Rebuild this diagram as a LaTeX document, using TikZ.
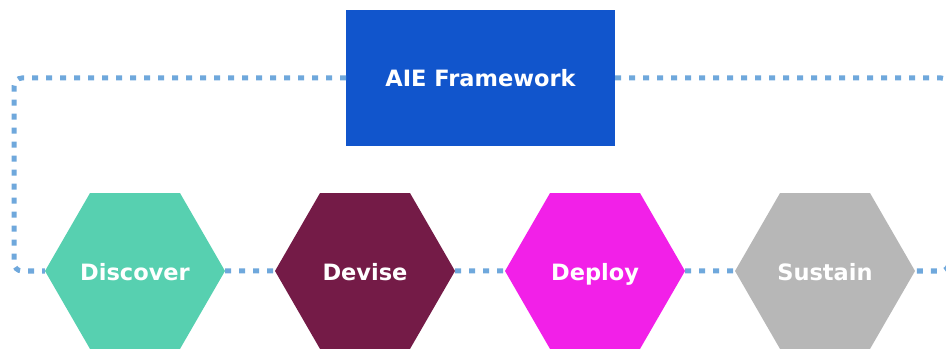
\documentclass[tikz,border=0pt]{standalone}
\usepackage{fontspec}
\setmainfont{DejaVu Sans}
\usetikzlibrary{shapes.geometric,positioning}

\definecolor{frameblue}{HTML}{1155CC}
\definecolor{linkblue}{HTML}{6FA8DC}
\definecolor{discovergreen}{HTML}{57D0B0}
\definecolor{devisewine}{HTML}{741B47}
\definecolor{deploypink}{HTML}{F220E8}
\definecolor{sustaingray}{HTML}{B7B7B7}

\newcommand{\labelfont}{\fontsize{22.5}{26}\selectfont\bfseries}

\tikzset{
  stage/.style={regular polygon, regular polygon sides=6,
    minimum size=180pt, inner sep=0pt, outer sep=0pt, text=white, font=\labelfont,
    text height=21pt, text depth=3pt},
  framebox/.style={rectangle, fill=frameblue, minimum width=269pt, minimum height=136pt,
    inner sep=0pt, outer sep=0pt, text=white, font=\labelfont},
  link/.style={draw=linkblue, line width=5pt, dash pattern=on 6pt off 8pt, rounded corners=8pt}
}

\begin{document}
\begin{tikzpicture}[x=1pt, y=-1pt, node distance=50pt]
  \useasboundingbox (0,0) rectangle (946,350);

  \node[framebox] (frame) at (480.5,78) {AIE Framework};

  \node[stage, fill=discovergreen] (discover) at (135,271) {Discover};
  \node[stage, fill=devisewine, right=of discover] (devise) {Devise};
  \node[stage, fill=deploypink, right=of devise] (deploy) {Deploy};
  \node[stage, fill=sustaingray, right=of deploy] (sustain) {Sustain};

  \coordinate (lside) at (14,0);
  \coordinate (rside) at (949,0);

  % loop back from the framework box to both ends of the row
  \draw[link] (frame.west) -- (frame.west -| lside) -- (discover.west -| lside) -- (discover.west);
  \draw[link] (frame.east) -- (frame.east -| rside) -- (sustain.east -| rside) -- (sustain.east);

  \draw[link] (discover) -- (devise);
  \draw[link] (devise) -- (deploy);
  \draw[link] (deploy) -- (sustain);
\end{tikzpicture}
\end{document}
